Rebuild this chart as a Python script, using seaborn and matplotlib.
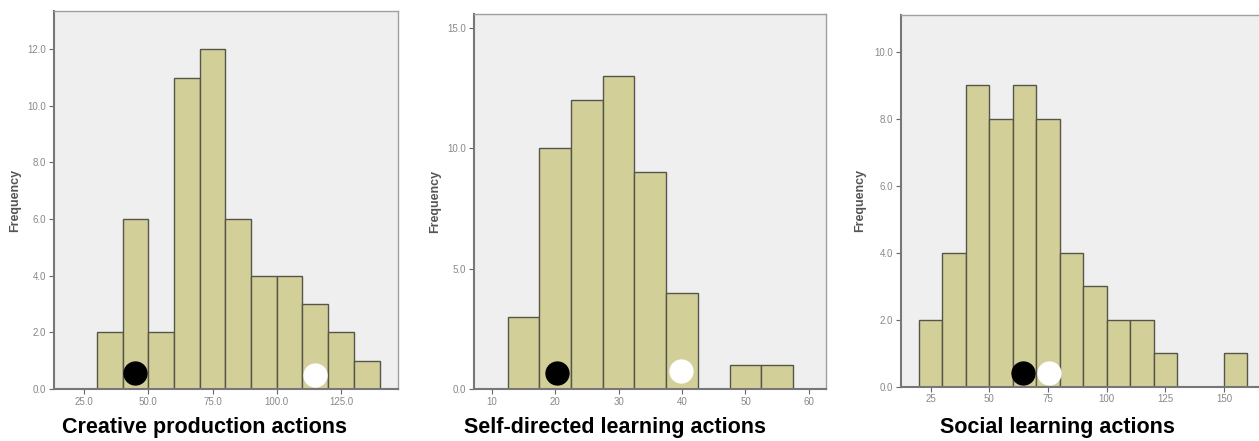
import numpy as np
import pandas as pd
import matplotlib
matplotlib.use("Agg")
import matplotlib.pyplot as plt
import seaborn as sns

# --- data ---
creative_edges = [30, 40, 50, 60, 70, 80, 90, 100, 110, 120, 130, 140]
creative_counts = [2, 6, 2, 11, 12, 6, 4, 4, 3, 2, 1]

selfdir_edges = [12.5, 17.5, 22.5, 27.5, 32.5, 37.5, 42.5, 47.5, 52.5, 57.5]
selfdir_counts = [3, 10, 12, 13, 9, 4, 0, 1, 1]

social_edges = [20, 30, 40, 50, 60, 70, 80, 90, 100, 110, 120, 130, 140, 150, 160]
social_counts = [2, 4, 9, 8, 9, 8, 4, 3, 2, 2, 1, 0, 0, 1]

titles = ["Creative production actions", "Self-directed learning actions", "Social learning actions"]

# black / white dot positions (x value, height)
black_dots = [(45, 0.58), (20.3, 0.68), (64.2, 0.42)]
white_dots = [(115, 0.50), (39.9, 0.76), (75.4, 0.42)]

xticks = [[25, 50, 75, 100, 125], [10, 20, 30, 40, 50, 60], [25, 50, 75, 100, 125, 150]]
xfmt = ["{:.1f}", "{:.0f}", "{:.0f}"]
yticks = [[0, 2, 4, 6, 8, 10, 12], [0, 5, 10, 15], [0, 2, 4, 6, 8, 10]]
xlims = [(13.3, 147.2), (7.2, 62.7), (12.35, 166.2)]
ylims = [(0, 13.35), (0, 15.58), (0, 11.1)]

W, H = 1259, 441
# axes boxes in pixels: left, right, top, bottom
boxes = [(54, 398, 11, 389), (474, 826, 14, 389), (901, 1262, 14.7, 386.7)]
ylabel_px = [21, 441, 866]
title_x = [205, 615, 1057]

sns.set_theme(style="white")
plt.rcParams['font.family'] = ['Liberation Sans', 'DejaVu Sans']

fig = plt.figure(figsize=(W / 100, H / 100), dpi=100)

panels = [(creative_edges, creative_counts), (selfdir_edges, selfdir_counts), (social_edges, social_counts)]

for i, (edges, counts) in enumerate(panels):
    l, r, t, b = boxes[i]
    ax = fig.add_axes([l / W, (H - b) / H, (r - l) / W, (b - t) / H])
    ax.set_facecolor("#efefef")

    centers = [(edges[k] + edges[k + 1]) / 2 for k in range(len(counts))]
    df = pd.DataFrame({"value": centers, "count": counts})
    sns.histplot(data=df, x="value", weights="count", bins=edges, ax=ax,
                 color="#d3cf98", alpha=1, edgecolor="#55554a", linewidth=1.0)

    bx, by = black_dots[i]
    wx, wy = white_dots[i]
    ax.plot([bx], [by], "o", color="black", markersize=16.5, zorder=5)
    ax.plot([wx], [wy], "o", color="white", markersize=16.5, zorder=5)

    ax.set_xlim(*xlims[i])
    ax.set_ylim(*ylims[i])
    ax.set_xticks(xticks[i])
    ax.set_xticklabels([xfmt[i].format(v) for v in xticks[i]])
    ax.set_yticks(yticks[i])
    ax.set_yticklabels(["{:.1f}".format(v) for v in yticks[i]])
    ax.tick_params(axis="both", direction="out", length=3.5, width=0.8, color="#666666",
                   labelsize=7, labelcolor="#888888", pad=2,
                   bottom=True, left=True)
    for s in ax.spines.values():
        s.set_color("#a0a0a0")
        s.set_linewidth(1.0)
    ax.spines["left"].set_color("#777777")
    ax.spines["left"].set_linewidth(1.5)
    ax.spines["bottom"].set_color("#777777")
    ax.spines["bottom"].set_linewidth(1.5)

    ax.set_xlabel("")
    ax.set_ylabel("Frequency", fontsize=9, fontweight="bold", color="#555555")
    ax.yaxis.set_label_coords((ylabel_px[i] - l) / (r - l), 0.5)

    fig.text(title_x[i] / W, 1 - 427 / H, titles[i], ha="center", va="center",
             fontsize=15.5, fontweight="bold", color="black")

fig.savefig("out.png", dpi=100)
